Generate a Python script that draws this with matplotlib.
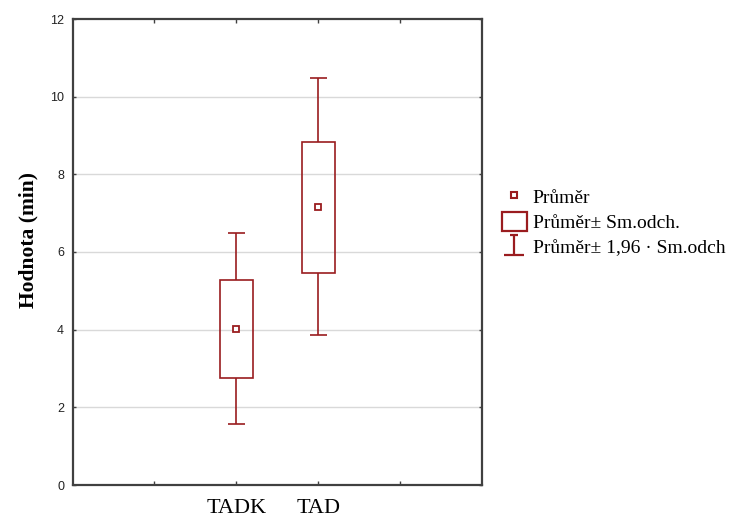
import matplotlib
matplotlib.use("Agg")
import matplotlib.pyplot as plt
from matplotlib.lines import Line2D
from matplotlib.patches import Rectangle
from matplotlib.path import Path

categories = ["TADK", "TAD"]
means = [4.03, 7.17]
sd_low = [2.76, 5.45]
sd_high = [5.27, 8.83]
ci_low = [1.56, 3.85]
ci_high = [6.50, 10.47]
positions = [2, 3]

RED = "#9a1c1f"
SPINE = "#404040"

fig = plt.figure(figsize=(7.45, 5.17), dpi=100)
ax = fig.add_axes([72.5 / 745, 32 / 517, (482 - 72.5) / 745, (485 - 19) / 517])

box_w = 0.40
cap_w = 0.21
ax.bar(positions, [h - l for h, l in zip(sd_high, sd_low)], bottom=sd_low,
       width=box_w, fill=False, edgecolor=RED, linewidth=1.2, zorder=3)
ax.vlines(positions, sd_high, ci_high, color=RED, linewidth=1.2, zorder=3)
ax.vlines(positions, ci_low, sd_low, color=RED, linewidth=1.2, zorder=3)
ax.hlines(ci_high, [p - cap_w / 2 for p in positions], [p + cap_w / 2 for p in positions],
          color=RED, linewidth=1.2, zorder=3)
ax.hlines(ci_low, [p - cap_w / 2 for p in positions], [p + cap_w / 2 for p in positions],
          color=RED, linewidth=1.2, zorder=3)
ax.plot(positions, means, linestyle="none", marker="s", markersize=4.2,
        markerfacecolor="white", markeredgecolor=RED, markeredgewidth=1.3, zorder=4)

ax.set_xlim(0, 5)
ax.set_ylim(0, 12)
ax.set_yticks(range(0, 13, 2))
ax.set_xticks([1, 2, 3, 4])
ax.set_xticklabels(["", categories[0], categories[1], ""],
                   fontfamily="Liberation Serif", fontsize=16)
for lab in ax.get_yticklabels():
    lab.set_fontfamily("Liberation Sans")
    lab.set_fontsize(9)
    lab.set_color("#222222")
ax.tick_params(axis="x", direction="in", length=3, width=1, color=SPINE,
               top=True, bottom=True, pad=10)
ax.tick_params(axis="y", direction="in", length=2, width=1, color=SPINE,
               left=True, right=True, pad=6)
for y in range(2, 12, 2):
    ax.axhline(y, color="#d9d9d9", linewidth=1.0, zorder=0)
for s in ax.spines.values():
    s.set_color(SPINE)
    s.set_linewidth(1.6)

ax.set_ylabel("Hodnota (min)", fontfamily="Liberation Serif", fontweight="bold",
              fontsize=15.5)
ax.yaxis.set_label_coords((28 - 72.5) / 409.5, (485 - 240) / 466)
ax.yaxis.label.set_verticalalignment("center")

# legend handles
whisk_path = Path([(0, -1), (0, 1), (-0.35, 1), (0.35, 1), (-1, -1), (1, -1)],
                  [Path.MOVETO, Path.LINETO, Path.MOVETO, Path.LINETO, Path.MOVETO, Path.LINETO])
h_mean = Line2D([], [], linestyle="none", marker="s", markersize=4.5,
                markerfacecolor="white", markeredgecolor=RED, markeredgewidth=1.5)
h_box = Rectangle((0, 0), 1, 1, fill=False, edgecolor=RED, linewidth=1.6)
h_whisk = Line2D([], [], linestyle="none", marker=whisk_path, markersize=15,
                 markerfacecolor="none", markeredgecolor=RED, markeredgewidth=1.6)
leg = fig.legend([h_mean, h_box, h_whisk],
                 ["Průměr", "Průměr± Sm.odch.", "Průměr± 1,96 · Sm.odch"],
                 loc="center left", bbox_to_anchor=(492 / 745, 1 - 222 / 517),
                 frameon=False, prop={"family": "Liberation Serif", "size": 14},
                 handlelength=1.3, handleheight=1.1, handletextpad=0.3,
                 labelspacing=0.28, borderpad=0)

fig.savefig("out.png", dpi=100)
